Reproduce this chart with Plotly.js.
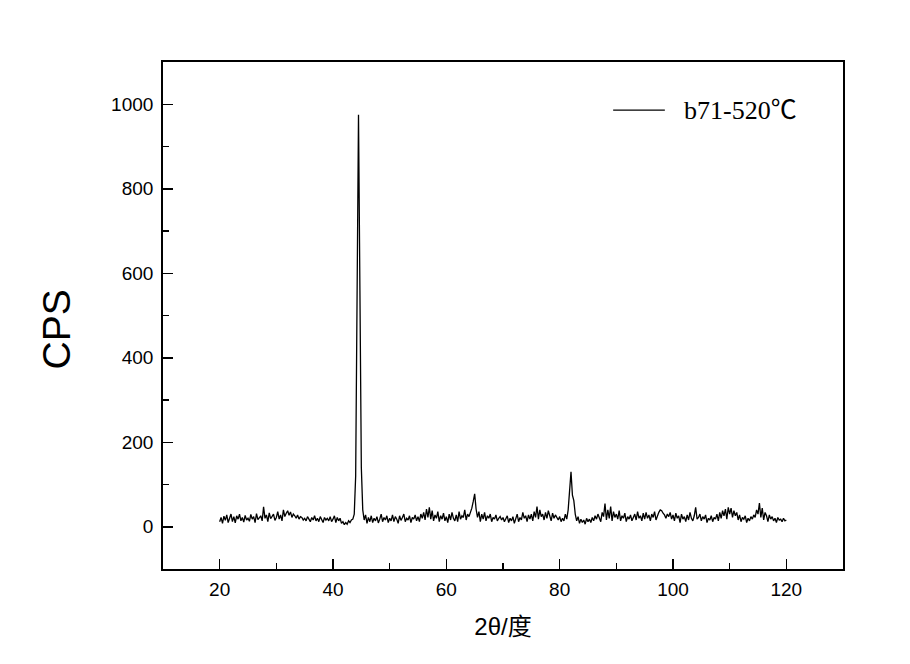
<!DOCTYPE html>
<html>
<head>
<meta charset="utf-8">
<script src="https://cdn.plot.ly/plotly-3.0.1.min.js"></script>
<style>html,body{margin:0;padding:0;background:#fff;}#chart{width:910px;height:664px;}</style>
</head>
<body>
<div id="chart"></div>
<script>
// 2θ sampling of the scan
const twoThetaStart = 20;
const twoThetaStep = 0.25;
const seriesName = "b71-520℃";

// CPS values, in 5° blocks (20 points each)
const cps20 = [12,22,8,25,15,28,10,20,30,12,24,9,26,18,30,14,22,11,27,16];
const cps25 = [20,13,29,18,24,10,31,17,22,26,14,47,20,28,12,33,19,25,30,15];
const cps30 = [22,36,18,28,14,40,24,32,38,27,35,22,30,26,20,28,18,24,22,16];
const cps35 = [20,14,24,18,12,22,16,26,14,20,12,24,18,10,22,16,20,14,24,12];
const cps40 = [18,26,10,22,14,20,8,12,5,10,6,14,10,16,18,30,120,620,975,560];
const cps45 = [140,40,16,28,8,22,12,26,10,20,14,24,9,18,30,12,22,16,26,10];
const cps50 = [20,14,28,12,24,18,8,26,15,22,30,12,20,16,26,10,22,18,28,14];
const cps55 = [24,12,30,20,34,16,42,22,46,18,38,14,28,20,36,12,26,18,32,14];
const cps60 = [24,10,30,16,34,20,14,28,12,36,18,26,22,40,16,30,24,34,44,60];
const cps65 = [78,42,22,36,12,30,18,34,14,26,20,30,12,22,18,28,14,20,24,16];
const cps70 = [22,12,18,26,10,20,14,24,8,18,30,12,22,16,34,20,26,12,28,18];
const cps75 = [30,14,36,22,48,18,40,24,30,16,34,20,38,26,14,32,20,28,22,16];
const cps80 = [24,12,20,14,30,18,40,80,130,75,62,30,14,24,8,18,10,16,6,20];
const cps85 = [12,18,10,22,14,26,18,30,22,12,34,24,55,16,40,20,48,14,36,22];
const cps90 = [30,18,38,14,26,20,32,12,24,18,28,14,22,30,16,36,20,26,14,32];
const cps95 = [18,34,20,28,14,30,22,36,16,26,34,40,38,32,28,20,30,24,34,18];
const cps100 = [28,14,32,20,26,10,30,18,24,12,28,16,34,20,14,26,46,18,22,30];
const cps105 = [14,24,18,28,10,20,16,26,12,22,18,30,14,34,20,38,26,42,18,46];
const cps110 = [30,44,22,38,26,34,16,28,12,22,18,26,10,20,14,24,18,28,22,40];
const cps115 = [30,56,22,44,16,34,26,12,28,18,24,14,20,10,22,16,18,12,20,14];
const cps120 = [16];

const cps = [].concat(cps20,cps25,cps30,cps35,cps40,cps45,cps50,cps55,cps60,cps65,
  cps70,cps75,cps80,cps85,cps90,cps95,cps100,cps105,cps110,cps115,cps120);
const twoTheta = cps.map((_, i) => twoThetaStart + i * twoThetaStep);

const xTickVals = [20,40,60,80,100,120];
const yTickVals = [0,200,400,600,800,1000];

const trace = {
  x: twoTheta, y: cps, type: 'scatter', mode: 'lines', name: seriesName,
  line: {color: '#000', width: 1.3}, showlegend: false, hoverinfo: 'skip'
};

const axisFont = {family: 'Liberation Sans, Arial, sans-serif', size: 19, color: '#000'};
const layout = {
  width: 910, height: 664,
  margin: {l: 163, r: 67, t: 62, b: 95},
  paper_bgcolor: '#fff', plot_bgcolor: '#fff',
  xaxis: {
    range: [10, 130], tickvals: xTickVals, ticks: 'inside', ticklen: 10, tickwidth: 1.5,
    tickcolor: '#000', showline: true, mirror: true, linecolor: '#000', linewidth: 1.8,
    showgrid: false, zeroline: false, tickfont: axisFont, ticklabelstandoff: 2,
    minor: {dtick: 10, tick0: 0, ticks: 'inside', ticklen: 6, tickwidth: 1.5, tickcolor: '#000', showgrid: false},
    title: {text: '2θ/度', font: {family: 'Liberation Sans, Noto Sans CJK SC, sans-serif', size: 24, color: '#000'}, standoff: 20}
  },
  yaxis: {
    range: [-100, 1100], tickvals: yTickVals, ticks: 'inside', ticklen: 10, tickwidth: 1.5,
    tickcolor: '#000', showline: true, mirror: true, linecolor: '#000', linewidth: 1.8,
    showgrid: false, zeroline: false, tickfont: axisFont, ticklabelstandoff: 4
  },
  shapes: [{type: 'line', xref: 'paper', yref: 'paper', x0: 0.662, x1: 0.738, y0: 0.905, y1: 0.905,
    line: {color: '#000', width: 1.3}}],
  annotations: [
    {xref: 'paper', yref: 'paper', x: 0.763, y: 0.905, xanchor: 'left', yanchor: 'middle',
      text: seriesName, showarrow: false,
      font: {family: 'Liberation Serif, Times New Roman, Noto Sans CJK SC, serif', size: 26, color: '#000'}},
    {xref: 'paper', yref: 'paper', x: -0.157, y: 0.473, xanchor: 'center', yanchor: 'middle',
      text: 'CPS', textangle: -90, showarrow: false,
      font: {family: 'Liberation Sans, Arial, sans-serif', size: 39, color: '#000'}}
  ]
};
layout.yaxis.minor = {dtick: 100, tick0: 0, ticks: 'inside', ticklen: 6, tickwidth: 1.5, tickcolor: '#000', showgrid: false};

Plotly.newPlot('chart', [trace], layout, {staticPlot: true, displayModeBar: false});
</script>
</body>
</html>
